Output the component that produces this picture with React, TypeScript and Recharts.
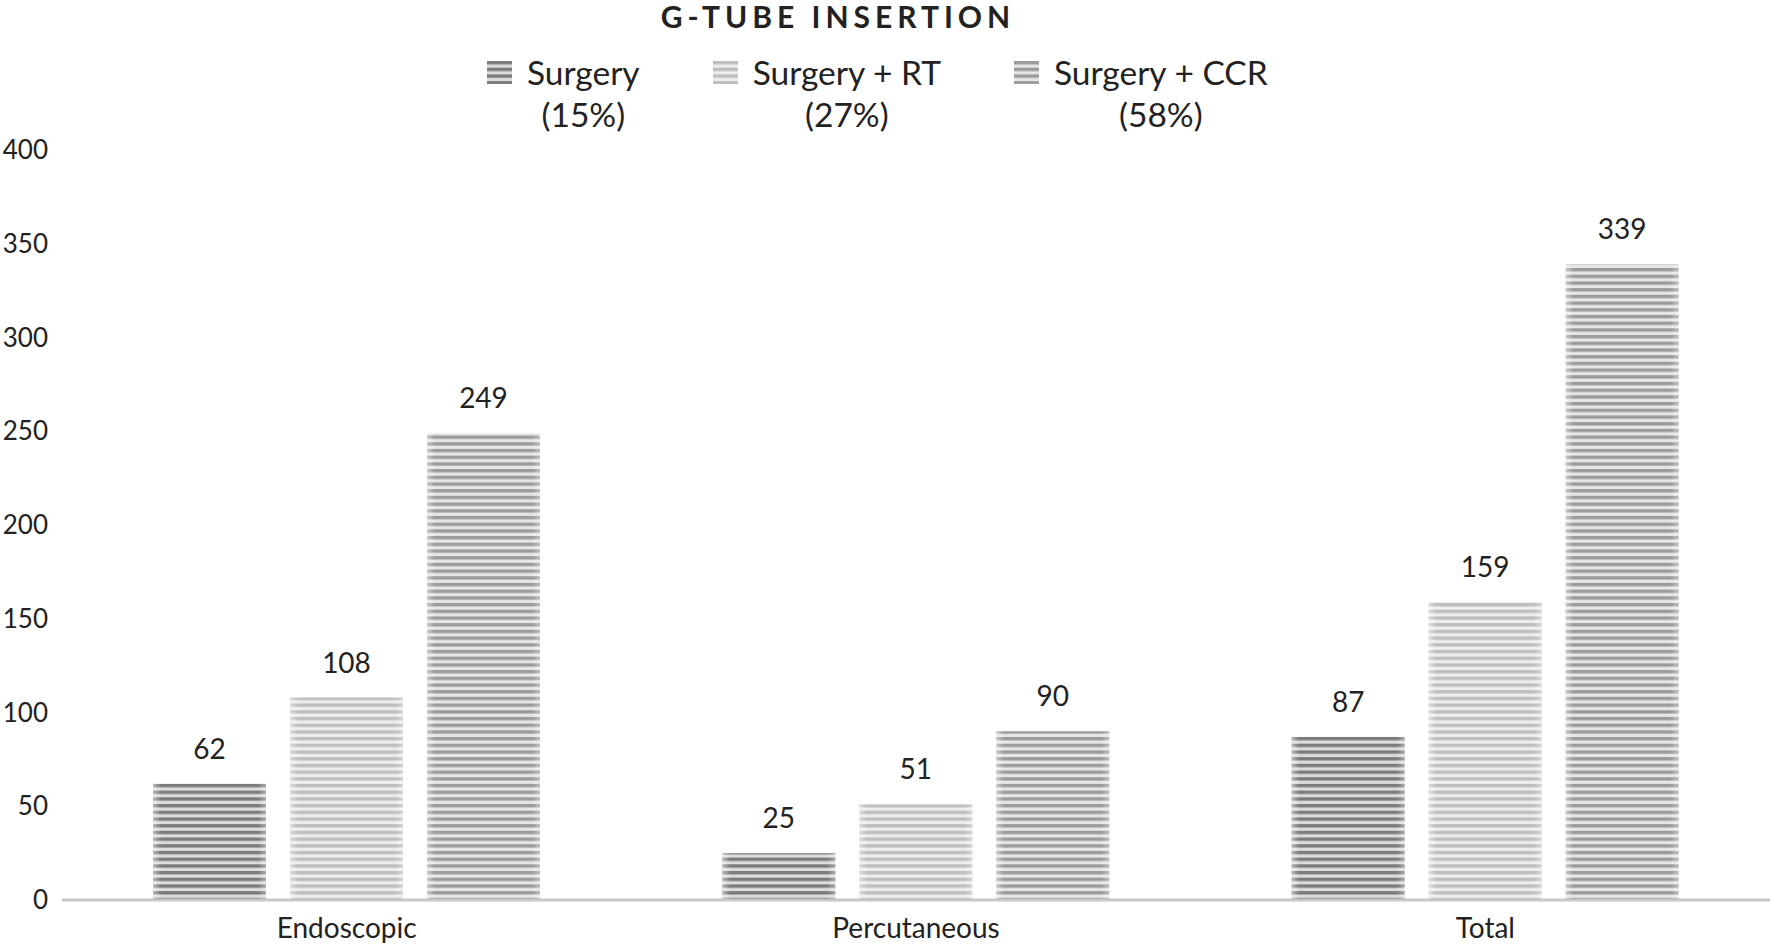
import { BarChart, Bar, XAxis, YAxis, LabelList } from 'recharts';

const categories = ['Endoscopic', 'Percutaneous', 'Total'];
const surgery = [62, 25, 87];
const surgeryRT = [108, 51, 159];
const surgeryCCR = [249, 90, 339];
const yTicks = [0, 50, 100, 150, 200, 250, 300, 350, 400];

const SERIES = [
  { key: 'surgery', name: 'Surgery', pct: '(15%)', stripe: '#7b7b7b', bg: '#dcdcdc' },
  { key: 'surgeryRT', name: 'Surgery + RT', pct: '(27%)', stripe: '#bebebe', bg: '#ededed' },
  { key: 'surgeryCCR', name: 'Surgery + CCR', pct: '(58%)', stripe: '#9b9b9b', bg: '#e6e6e6' },
];

const data = categories.map((name, i) => ({
  name,
  surgery: surgery[i],
  surgeryRT: surgeryRT[i],
  surgeryCCR: surgeryCCR[i],
}));

const FONT = 'Lato, "Open Sans", sans-serif';
const TEXT = '#222';

// striped bar with a soft light sheen at the left/right edges
function StripedBar(props: any) {
  const { x, y, width, height, fill } = props;
  if (!height || height <= 0) return null;
  return (
    <g>
      <rect x={x} y={y} width={width} height={height} fill={fill} />
      <rect x={x} y={y} width={width} height={height} fill="url(#edge-sheen)" />
    </g>
  );
}

function LegendBox() {
  return (
    <div style={{ display: 'flex', gap: 73, fontFamily: FONT, fontSize: 33.5, color: TEXT, lineHeight: '42px' }}>
      {SERIES.map((s) => (
        <div key={s.key} style={{ display: 'flex', alignItems: 'flex-start' }}>
          <svg width={25} height={23} style={{ marginTop: 10, marginRight: 15 }}>
            <rect width={25} height={23} fill={`url(#pat-${s.key})`} />
          </svg>
          <div style={{ textAlign: 'center' }}>
            <div>{s.name}</div>
            <div>{s.pct}</div>
          </div>
        </div>
      ))}
    </div>
  );
}

export default function App() {
  return (
    <div style={{ position: 'absolute', left: 0, top: 0, width: 1776, height: 945, background: '#fff' }}>
      <svg width={0} height={0} style={{ position: 'absolute' }}>
        <defs>
          {SERIES.map((s) => (
            <pattern key={s.key} id={`pat-${s.key}`} patternUnits="userSpaceOnUse" width={10} height={6.7}>
              <rect width={10} height={6.7} fill={s.bg} />
              <rect width={10} height={3.4} fill={s.stripe} />
            </pattern>
          ))}
          <linearGradient id="edge-sheen" x1="0" y1="0" x2="1" y2="0">
            <stop offset="0" stopColor="#fff" stopOpacity={0.45} />
            <stop offset="0.07" stopColor="#fff" stopOpacity={0} />
            <stop offset="0.93" stopColor="#fff" stopOpacity={0} />
            <stop offset="1" stopColor="#fff" stopOpacity={0.35} />
          </linearGradient>
        </defs>
      </svg>
      <div
        style={{
          position: 'absolute',
          left: 0,
          width: 1676,
          top: 0,
          textAlign: 'center',
          fontFamily: FONT,
          fontWeight: 700,
          fontSize: 30,
          letterSpacing: 5,
          color: TEXT,
          lineHeight: '32px',
        }}
      >
        G-TUBE INSERTION
      </div>
      <div style={{ position: 'absolute', left: 487, top: 51 }}>
        <LegendBox />
      </div>
      <BarChart
        width={1776}
        height={945}
        data={data}
        margin={{ top: 150, right: 6, bottom: 0, left: 0 }}
        barGap={24}
        barCategoryGap={91}
        style={{ position: 'absolute', left: 0, top: 0 }}
      >
        <XAxis
          dataKey="name"
          height={45}
          tickSize={0}
          tickMargin={18}
          axisLine={{ stroke: '#c8c8c8', strokeWidth: 3 }}
          tick={{ fill: TEXT, fontSize: 28, fontFamily: FONT }}
        />
        <YAxis
          width={62}
          domain={[0, 400]}
          ticks={yTicks}
          axisLine={false}
          tickLine={false}
          tickSize={0}
          tickMargin={14}
          tick={{ fill: TEXT, fontSize: 26, fontFamily: FONT }}
        />
        {SERIES.map((s) => (
          <Bar
            key={s.key}
            dataKey={s.key}
            name={s.name}
            fill={`url(#pat-${s.key})`}
            shape={<StripedBar />}
            isAnimationActive={false}
          >
            <LabelList
              dataKey={s.key}
              position="top"
              offset={25}
              style={{ fill: TEXT, fontSize: 28, fontFamily: FONT }}
            />
          </Bar>
        ))}
      </BarChart>
    </div>
  );
}
